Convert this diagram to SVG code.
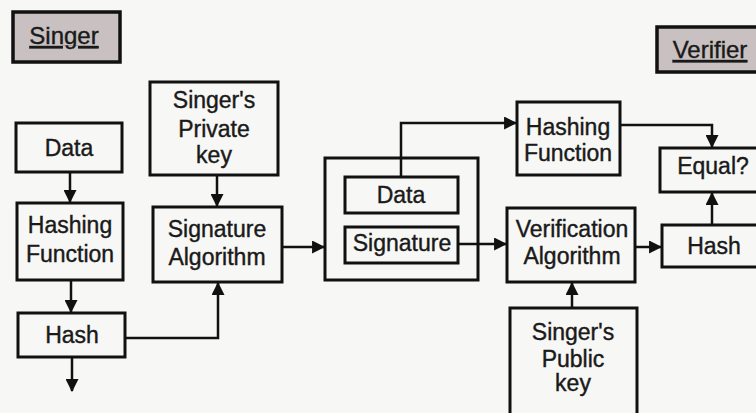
<svg xmlns="http://www.w3.org/2000/svg" width="756" height="413" viewBox="0 0 756 413">
  <defs>
    <marker id="arrow" viewBox="0 0 12 12" refX="11" refY="6" markerWidth="13" markerHeight="13" markerUnits="userSpaceOnUse" orient="auto">
      <path d="M0,0 L12,6 L0,12 Z" fill="#111"/>
    </marker>
  </defs>
  <style>
    .box { fill: none; stroke: #111; stroke-width: 3; }
    .tag { fill: #c9c1c1; stroke: #111; stroke-width: 3.5; }
    .wire { fill: none; stroke: #111; stroke-width: 2.5; }
    text { font-family: "Liberation Sans", Arial, sans-serif; font-size: 23px; fill: #1a1a1a; text-anchor: middle; stroke: #1a1a1a; stroke-width: 0.4; }
    .ul { text-decoration: underline; font-size: 24px; }
  </style>
  <rect width="756" height="413" fill="#f7f7f5"/>

  <!-- section labels -->
  <g id="singer-label">
    <rect class="tag" x="13" y="12" width="107" height="50"/>
    <text class="ul" x="64" y="44">Singer</text>
  </g>
  <g id="verifier-label">
    <rect class="tag" x="657" y="27" width="110" height="45"/>
    <text class="ul" x="710" y="58">Verifier</text>
  </g>

  <!-- signing side -->
  <g id="data">
    <rect class="box" x="16" y="123" width="106" height="49"/>
    <text x="69" y="156">Data</text>
  </g>
  <g id="hashing-function">
    <rect class="box" x="17" y="203" width="106" height="77"/>
    <text x="70" y="233">Hashing</text>
    <text x="70" y="262">Function</text>
  </g>
  <g id="hash">
    <rect class="box" x="18" y="313" width="107" height="44"/>
    <text x="72" y="343">Hash</text>
  </g>
  <g id="private-key">
    <rect class="box" x="150" y="82" width="128" height="93"/>
    <text x="214" y="108">Singer's</text>
    <text x="214" y="137">Private</text>
    <text x="214" y="163">key</text>
  </g>
  <g id="signature-algorithm">
    <rect class="box" x="153" y="207" width="129" height="75"/>
    <text x="217" y="237">Signature</text>
    <text x="217" y="265">Algorithm</text>
  </g>

  <!-- signed message -->
  <g id="message">
    <rect class="box" x="325" y="158" width="153" height="122"/>
  </g>
  <g id="message-data">
    <rect class="box" x="345" y="177" width="113" height="36"/>
    <text x="401" y="203">Data</text>
  </g>
  <g id="message-signature">
    <rect class="box" x="345" y="227" width="113" height="36"/>
    <text x="402" y="251">Signature</text>
  </g>

  <!-- verifying side -->
  <g id="verifier-hashing-function">
    <rect class="box" x="517" y="102" width="103" height="73"/>
    <text x="568" y="135">Hashing</text>
    <text x="568" y="161">Function</text>
  </g>
  <g id="verification-algorithm">
    <rect class="box" x="507" y="208" width="128" height="74"/>
    <text x="572" y="237">Verification</text>
    <text x="572" y="264">Algorithm</text>
  </g>
  <g id="public-key">
    <rect class="box" x="510" y="308" width="127" height="120"/>
    <text x="573" y="340">Singer's</text>
    <text x="573" y="367">Public</text>
    <text x="573" y="391">key</text>
  </g>
  <g id="equal">
    <rect class="box" x="660" y="148" width="110" height="44"/>
    <text x="713" y="174">Equal?</text>
  </g>
  <g id="verifier-hash">
    <rect class="box" x="662" y="225" width="108" height="42"/>
    <text x="714" y="254">Hash</text>
  </g>

  <!-- connectors -->
  <g id="connectors">
    <path class="wire" d="M70,172 V202" marker-end="url(#arrow)"/>
    <path class="wire" d="M71,280 V312" marker-end="url(#arrow)"/>
    <path class="wire" d="M72,357 V391" marker-end="url(#arrow)"/>
    <path class="wire" d="M125,338 H218 V283" marker-end="url(#arrow)"/>
    <path class="wire" d="M217,175 V206" marker-end="url(#arrow)"/>
    <path class="wire" d="M282,247 H324" marker-end="url(#arrow)"/>
    <path class="wire" d="M401,177 V123 H516" marker-end="url(#arrow)"/>
    <path class="wire" d="M458,244 H506" marker-end="url(#arrow)"/>
    <path class="wire" d="M572,308 V283" marker-end="url(#arrow)"/>
    <path class="wire" d="M635,247 H661" marker-end="url(#arrow)"/>
    <path class="wire" d="M620,125 H712 V147" marker-end="url(#arrow)"/>
    <path class="wire" d="M712,225 V193" marker-end="url(#arrow)"/>
  </g>
</svg>
